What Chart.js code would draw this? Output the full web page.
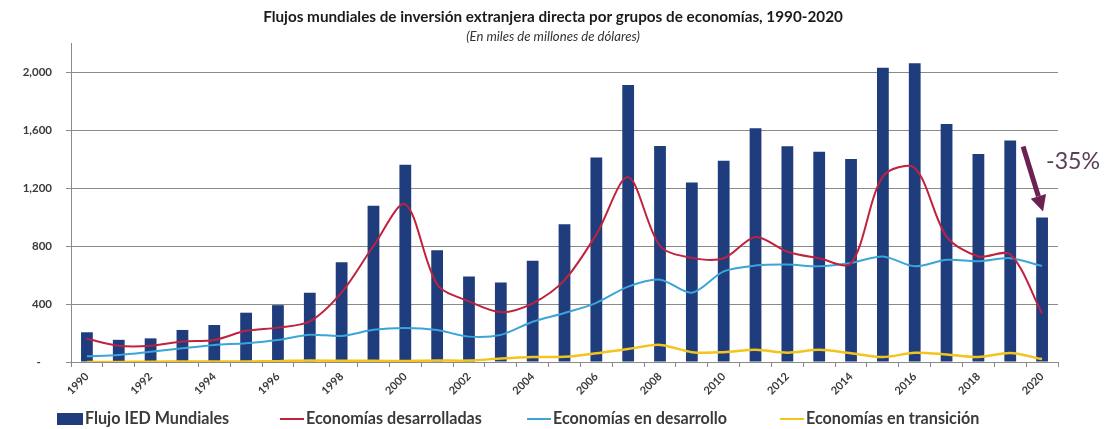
<!DOCTYPE html>
<html><head><meta charset="utf-8">
<script src="https://cdn.jsdelivr.net/npm/chart.js@4/dist/chart.umd.min.js"></script>
<style>html,body{margin:0;padding:0;background:#fff}#wrap{width:1105px;height:429px;position:relative}canvas{display:block}</style>
</head><body><div id="wrap"><canvas id="c" width="1105" height="429"></canvas></div>
<script>
const years = ['1990','1991','1992','1993','1994','1995','1996','1997','1998','1999','2000','2001','2002','2003','2004','2005','2006','2007','2008','2009','2010','2011','2012','2013','2014','2015','2016','2017','2018','2019','2020'];
const flujoMundial = [205,153,163,221,255,340,392,478,688,1078,1360,770,590,548,698,950,1410,1910,1490,1238,1388,1612,1488,1450,1400,2030,2060,1642,1434,1528,996];
const desarrolladas = [160,112,112,142,152,215,237,280,480,800,1088,535,418,344,405,565,880,1275,800,718,715,862,760,715,680,1280,1338,865,728,742,335];
const enDesarrollo = [40,48,70,95,118,130,152,188,180,222,235,220,175,187,278,338,408,520,568,478,625,665,672,660,683,728,660,705,695,716,662];
const enTransicion = [0,0,2,4,4,4,6,10,8,8,7,10,10,24,34,36,60,90,118,68,67,84,64,84,60,34,64,52,34,62,20];
const yTickValues = [0,400,800,1200,1600,2000];
const titleText = 'Flujos mundiales de inversión extranjera directa por grupos de economías, 1990-2020';
const subtitleText = '(En miles de millones de dólares)';
const annotationText = '-35%';
const seriesNames = ['Flujo IED Mundiales','Economías desarrolladas','Economías en desarrollo','Economías en transición'];

const C_BAR = '#1f3c7d', C_RED = '#c0223d', C_BLUE = '#3ba4d8', C_YEL = '#f3c41c';
const FAM = 'Lato, "Open Sans", sans-serif';
const TXT = '#3a3a3a';

function fitSize(ctx, text, weight, style, target){
  ctx.font = style + ' ' + weight + ' 20px ' + FAM;
  return 20 * target / ctx.measureText(text).width;
}

const decor = {
  id:'decor',
  afterDraw(chart){
    const ctx = chart.ctx;
    ctx.save();
    // title
    ctx.fillStyle = '#1a1a1a';
    ctx.textAlign = 'center'; ctx.textBaseline = 'middle';
    let s = fitSize(ctx, titleText, 'bold', 'normal', 580);
    ctx.font = 'normal bold ' + s + 'px ' + FAM;
    ctx.fillText(titleText, 553, 17);
    s = fitSize(ctx, subtitleText, 'normal', 'italic', 174);
    ctx.font = 'italic normal ' + s + 'px ' + FAM;
    ctx.fillStyle = '#333';
    ctx.fillText(subtitleText, 553, 37);

    // legend
    const ly = 419;
    ctx.textAlign = 'left';
    ctx.fillStyle = C_BAR;
    ctx.fillRect(57, ly-6, 26, 12);
    const lf = fitSize(ctx, seriesNames[1], 'bold', 'normal', 176);
    ctx.font = 'normal bold ' + lf + 'px ' + FAM;
    ctx.fillStyle = TXT;
    ctx.fillText(seriesNames[0], 85, ly);
    const items = [[280, C_RED, seriesNames[1]],[527, C_BLUE, seriesNames[2]],[780, C_YEL, seriesNames[3]]];
    items.forEach(([x,c,t])=>{
      ctx.strokeStyle = c; ctx.lineWidth = 2;
      ctx.beginPath(); ctx.moveTo(x, ly); ctx.lineTo(x+24, ly); ctx.stroke();
      ctx.fillStyle = TXT;
      ctx.fillText(t, x+26, ly);
    });

    // annotation arrow on last bar
    const meta = chart.getDatasetMeta(0);
    const bar = meta.data[meta.data.length-1];
    const cx = bar.x, top = bar.y;
    const x0 = cx-19, y0 = top-71, x1 = cx+1, y1 = top-6;
    const ang = Math.atan2(y1-y0, x1-x0);
    const hl = 16, hw = 8;
    const bx = x1 - hl*Math.cos(ang), by = y1 - hl*Math.sin(ang);
    ctx.strokeStyle = '#6c2150'; ctx.fillStyle = '#6c2150';
    ctx.lineWidth = 5; ctx.lineCap = 'butt';
    ctx.beginPath(); ctx.moveTo(x0,y0); ctx.lineTo(bx,by); ctx.stroke();
    ctx.beginPath();
    ctx.moveTo(x1,y1);
    ctx.lineTo(bx + hw*Math.sin(ang), by - hw*Math.cos(ang));
    ctx.lineTo(bx - hw*Math.sin(ang), by + hw*Math.cos(ang));
    ctx.closePath(); ctx.fill();
    const as = fitSize(ctx, annotationText, 'normal', 'normal', 54);
    ctx.font = 'normal normal ' + as + 'px ' + FAM;
    ctx.fillStyle = '#5a3e57';
    ctx.textAlign = 'left'; ctx.textBaseline = 'middle';
    ctx.fillText(annotationText, cx+4, top-56);
    ctx.restore();
  }
};

new Chart(document.getElementById('c'), {
  data:{
    labels: years,
    datasets:[
      {type:'bar', label:seriesNames[0], data:flujoMundial, backgroundColor:C_BAR, order:2, barPercentage:0.37, categoryPercentage:1},
      {type:'line', label:seriesNames[1], data:desarrolladas, borderColor:C_RED, borderWidth:2, pointRadius:0, tension:0.3, order:1},
      {type:'line', label:seriesNames[2], data:enDesarrollo, borderColor:C_BLUE, borderWidth:2, pointRadius:0, tension:0.3, order:1},
      {type:'line', label:seriesNames[3], data:enTransicion, borderColor:C_YEL, borderWidth:2.5, pointRadius:0, tension:0.3, order:1}
    ]
  },
  options:{
    responsive:false, animation:false, devicePixelRatio:1,
    layout:{padding:{top:43, right:47, left:0, bottom:0}},
    plugins:{legend:{display:false}, tooltip:{enabled:false}, title:{display:false}},
    scales:{
      x:{
        offset:true,
        grid:{display:true, drawOnChartArea:false, drawTicks:true, tickLength:5, color:'#8a8a8a', offset:true},
        border:{color:'#8a8a8a'},
        ticks:{autoSkip:false, maxRotation:45, minRotation:45, padding:3, color:TXT,
          font:{family:FAM, weight:'bold', size:11},
          callback:(v,i)=> i%2===0 ? years[i] : ''},
        afterFit:s=>{s.height=67;}
      },
      y:{
        min:0, max:2200,
        afterBuildTicks:s=>{s.ticks = yTickValues.map(v=>({value:v}));},
        grid:{color:'#8a8a8a', tickLength:5, drawTicks:true},
        border:{color:'#8a8a8a'},
        ticks:{padding:14, color:TXT, font:{family:FAM, weight:'bold', size:11.5},
          callback:v=> v===0 ? '-    ' : v.toLocaleString('en-US')},
        afterFit:s=>{s.width=71;}
      }
    }
  },
  plugins:[decor]
});
</script></body></html>
